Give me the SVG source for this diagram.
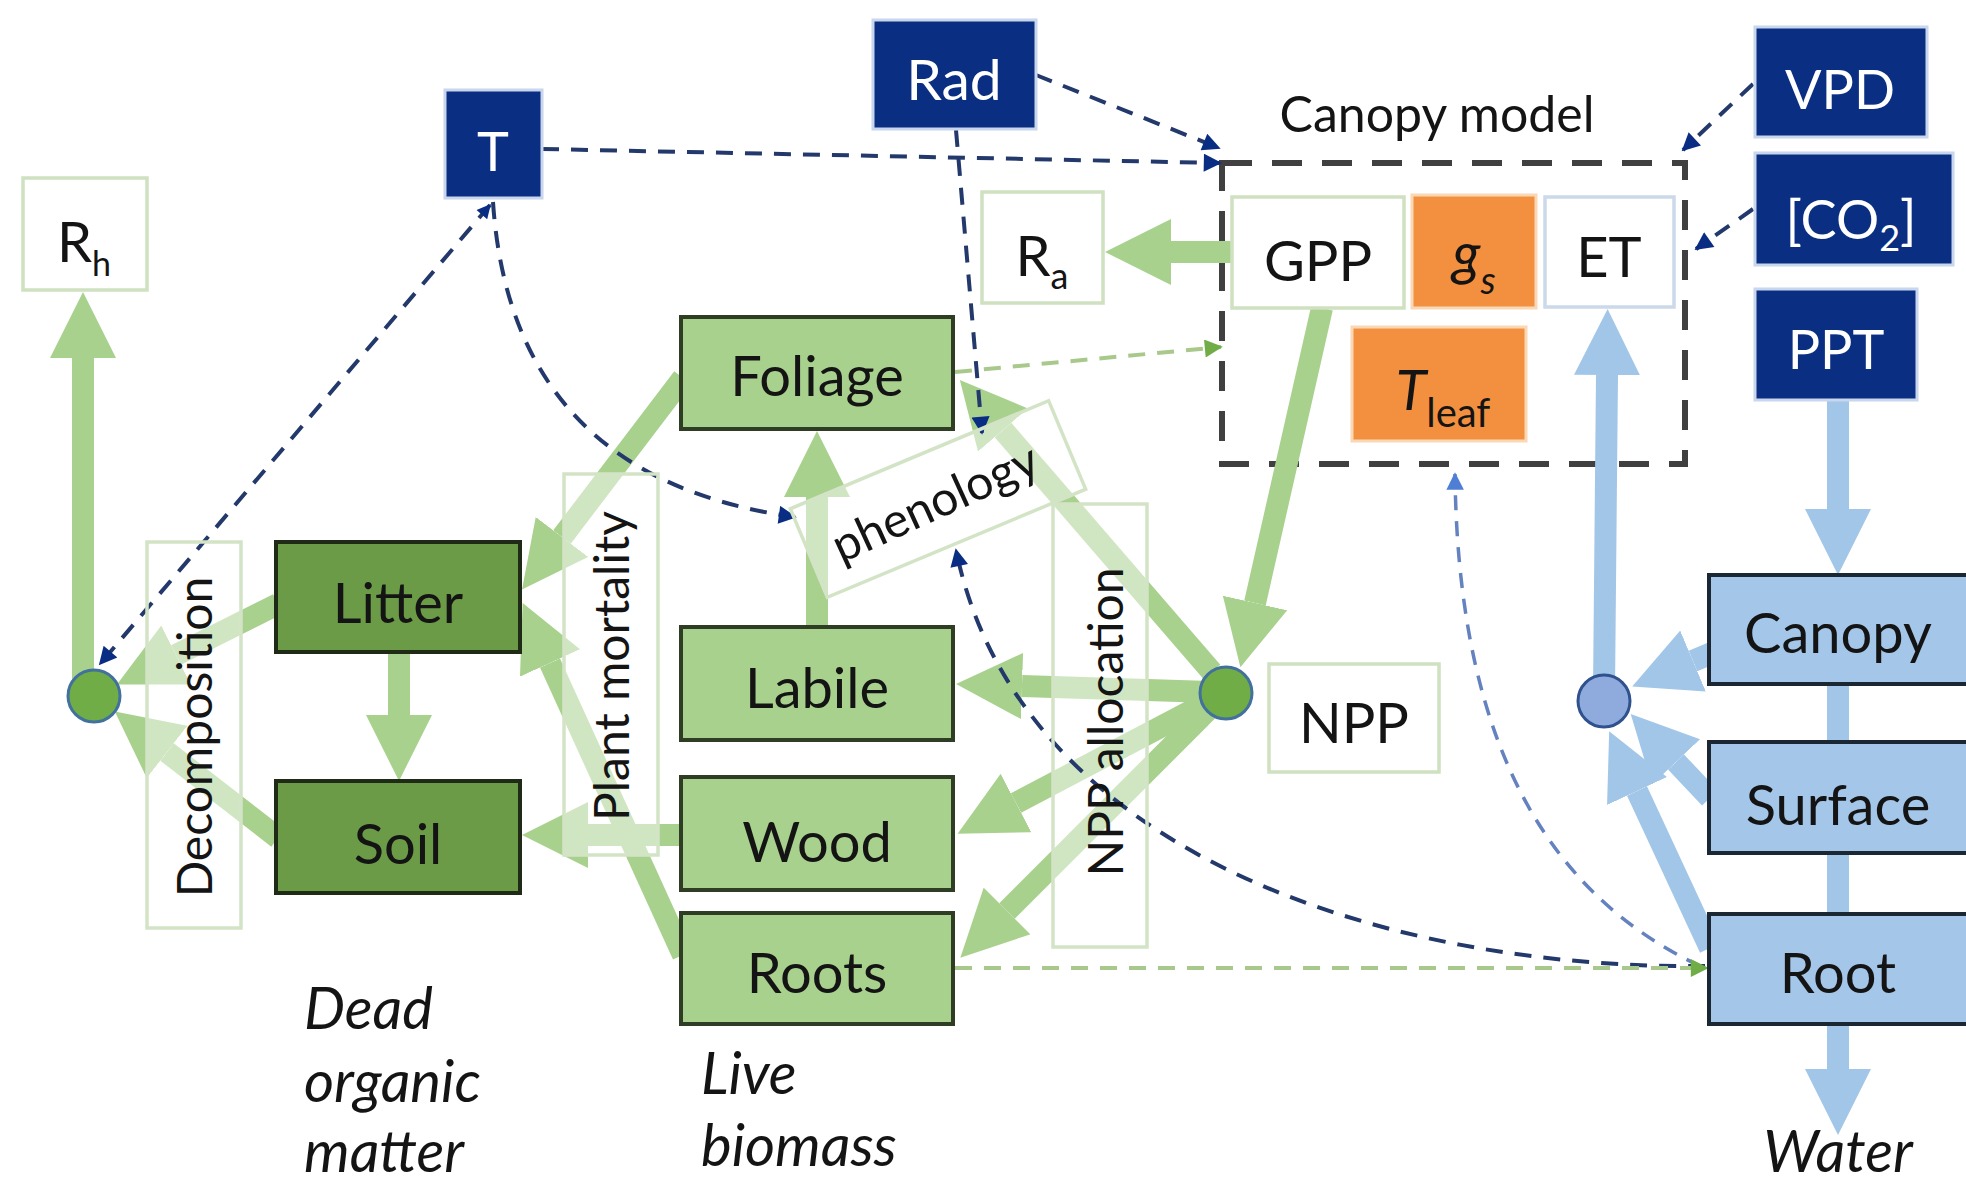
<svg xmlns="http://www.w3.org/2000/svg" width="1966" height="1187" viewBox="0 0 1966 1187">
<style>
  text { font-family: Lato, "Liberation Sans", sans-serif; }
  .lbl { font-size: 56px; text-anchor: middle; fill: #141414; }
  .inv { fill: #ffffff; font-size: 54px; }
  .side { font-size: 48px; text-anchor: middle; fill: #141414; }
  .note { font-size: 58px; font-style: italic; fill: #141414; }
  .navy { fill: #0a2f82; stroke: #c8d6ee; stroke-width: 3; }
  .live { fill: #a9d18e; stroke: #2e3d24; stroke-width: 4; }
  .dead { fill: #6b9b47; stroke: #1f2b16; stroke-width: 4; }
  .water { fill: #a3c6e9; stroke: #1b2733; stroke-width: 4; }
  .flux { fill: #ffffff; stroke: #cfe1c1; stroke-width: 3.5; }
  .fluxB { fill: #ffffff; stroke: #cbd9ea; stroke-width: 3.5; }
  .proc { fill: none; stroke: #d3e4c6; stroke-width: 3.5; }
  .hot { fill: #f29040; stroke: #fbd8b5; stroke-width: 3; }
  .pool { fill: #70ad47; stroke: #41719c; stroke-width: 3; }
  .poolB { fill: #8faadc; stroke: #2f528f; stroke-width: 3; }
  .gflow { fill: none; stroke: #a9d18e; stroke-width: 22; marker-end: url(#headG); }
  .bflow { fill: none; stroke: #a2c6e8; stroke-width: 22; marker-end: url(#headB); }
  .ctl { fill: none; stroke: #23396b; stroke-width: 4; stroke-dasharray: 17 12; marker-end: url(#tipN); }
  .ctlG { fill: none; stroke: #a9c98c; stroke-width: 4; stroke-dasharray: 17 12; marker-end: url(#tipG); }
  .ctlB { fill: none; stroke: #6482c0; stroke-width: 3.5; stroke-dasharray: 15 11; marker-end: url(#tipB); }
</style>
<defs>
  <marker id="headG" viewBox="0 0 10 10" refX="0" refY="5" markerWidth="3" markerHeight="3" orient="auto"><path d="M0,0 L10,5 L0,10 z" fill="#a9d18e"/></marker>
  <marker id="headB" viewBox="0 0 10 10" refX="0" refY="5" markerWidth="3" markerHeight="3" orient="auto"><path d="M0,0 L10,5 L0,10 z" fill="#a2c6e8"/></marker>
  <marker id="tipN" viewBox="0 0 10 10" refX="9" refY="5" markerWidth="5" markerHeight="4.5" orient="auto"><path d="M0,0 L10,5 L0,10 z" fill="#0a2d84"/></marker>
  <marker id="tipNs" viewBox="0 0 10 10" refX="9" refY="5" markerWidth="4" markerHeight="3.5" orient="auto-start-reverse"><path d="M0,0 L10,5 L0,10 z" fill="#0a2d84"/></marker>
  <marker id="tipG" viewBox="0 0 10 10" refX="9" refY="5" markerWidth="5" markerHeight="4.5" orient="auto"><path d="M0,0 L10,5 L0,10 z" fill="#70ad47"/></marker>
  <marker id="tipB" viewBox="0 0 10 10" refX="9" refY="5" markerWidth="5.5" markerHeight="5" orient="auto"><path d="M0,0 L10,5 L0,10 z" fill="#4e7fd4"/></marker>
  <!-- process label frames, shared by the nodes and the fading mask -->
  <rect id="box-decomp" x="147" y="542" width="94" height="386"/>
  <rect id="box-mort" x="564" y="474" width="94" height="381"/>
  <rect id="box-alloc" x="1053" y="504" width="94" height="443"/>
  <rect id="box-phen" x="-140" y="-48" width="280" height="96" transform="translate(938,499) rotate(-22.7)"/>
  <!-- flows seen through the process frames are washed out -->
  <mask id="fade" maskUnits="userSpaceOnUse" x="0" y="0" width="1966" height="1187">
    <rect width="1966" height="1187" fill="#ffffff"/>
    <g fill="#8a8a8a">
      <use href="#box-decomp"/>
      <use href="#box-mort"/>
      <use href="#box-alloc"/>
      <use href="#box-phen"/>
    </g>
  </mask>
</defs>

<rect width="1966" height="1187" fill="#ffffff"/>

<!-- canopy model frame -->
<g id="canopy-model">
  <rect x="1222" y="163" width="463" height="301" fill="none" stroke="#404040" stroke-width="6" stroke-dasharray="30 20"/>
  <text class="lbl" x="1437" y="132" style="font-size:50px">Canopy model</text>
</g>

<g id="connectors">
  <g id="flows" mask="url(#fade)">
    <!-- carbon -->
    <path class="gflow" d="M1322,308 L1255,603"/>
    <path class="gflow" d="M1232,252 L1171,252"/>
    <path class="gflow" d="M1210,692 L1022,686"/>
    <path class="gflow" d="M1210,701 L1016,803"/>
    <path class="gflow" d="M1212,706 L1007,911"/>
    <path class="gflow" d="M1212,672 L1003,430"/>
    <path class="gflow" d="M817,627 L817,497"/>
    <path class="gflow" d="M683,378 L562,537"/>
    <path class="gflow" d="M683,955 L550,663"/>
    <path class="gflow" d="M681,835 L588,835"/>
    <path class="gflow" d="M399,652 L399,715"/>
    <path class="gflow" d="M278,604 L176,655"/>
    <path class="gflow" d="M278,838 L167,752"/>
    <path class="gflow" d="M83,690 L83,358"/>
    <!-- water -->
    <path class="bflow" d="M1838,399 L1838,509"/>
    <path class="bflow" d="M1838,575 L1838,1069"/>
    <path class="bflow" d="M1712,653 L1693,661"/>
    <path class="bflow" d="M1710,798 L1676,762"/>
    <path class="bflow" d="M1710,948 L1637,791"/>
    <path class="bflow" d="M1604,690 L1607,375"/>
  </g>
  <g id="controls">
    <path class="ctl" d="M542,149 L1220,163"/>
    <path class="ctl" d="M1036,75 L1219,148"/>
    <path class="ctl" d="M956,130 L982,433"/>
    <path class="ctl" d="M493,202 C505,380 600,490 795,517"/>
    <path class="ctl" d="M490,205 L100,664" style="marker-start:url(#tipNs)"/>
    <path class="ctl" d="M1705,966 C1400,970 1020,860 956,550"/>
    <path class="ctl" d="M1753,84 L1683,150"/>
    <path class="ctl" d="M1753,209 L1696,249"/>
    <path class="ctlB" d="M1700,966 C1560,900 1458,760 1455,474"/>
    <path class="ctlG" d="M955,372 L1221,347"/>
    <path class="ctlG" d="M955,968 L1707,968"/>
  </g>
</g>

<!-- drivers -->
<g id="node-rad"><rect class="navy" x="873" y="20" width="163" height="109"/><text class="lbl inv" x="954" y="100" style="font-size:57px">Rad</text></g>
<g id="node-t"><rect class="navy" x="445" y="90" width="97" height="108"/><text class="lbl inv" x="493" y="171">T</text></g>
<g id="node-vpd"><rect class="navy" x="1755" y="27" width="172" height="110"/><text class="lbl inv" x="1840" y="109">VPD</text></g>
<g id="node-co2"><rect class="navy" x="1755" y="153" width="198" height="112"/><text class="lbl inv" x="1851" y="239">[CO<tspan font-size="36" dy="12">2</tspan><tspan dy="-12">]</tspan></text></g>
<g id="node-ppt"><rect class="navy" x="1755" y="289" width="162" height="111"/><text class="lbl inv" x="1836" y="369">PPT</text></g>

<!-- fluxes -->
<g id="node-rh"><rect class="flux" x="23" y="178" width="124" height="112"/><text class="lbl" x="84" y="262">R<tspan font-size="34" dy="14">h</tspan></text></g>
<g id="node-ra"><rect class="flux" x="982" y="192" width="121" height="111"/><text class="lbl" x="1042" y="276">R<tspan font-size="36" dy="13">a</tspan></text></g>
<g id="node-gpp"><rect class="flux" x="1232" y="197" width="172" height="111"/><text class="lbl" x="1318" y="281">GPP</text></g>
<g id="node-gs"><rect class="hot" x="1412" y="195" width="124" height="113"/><text class="lbl" x="1474" y="274" font-style="italic" style="font-size:58px">g<tspan font-size="38" dy="20">s</tspan></text></g>
<g id="node-et"><rect class="fluxB" x="1545" y="197" width="129" height="110"/><text class="lbl" x="1609" y="277">ET</text></g>
<g id="node-tleaf"><rect class="hot" x="1352" y="327" width="174" height="114"/><text class="lbl" x="1443" y="410"><tspan font-style="italic">T</tspan><tspan font-size="40" dy="17">leaf</tspan></text></g>
<g id="node-npp"><rect class="flux" x="1269" y="664" width="170" height="108"/><text class="lbl" x="1354" y="743">NPP</text></g>

<!-- processes -->
<g id="node-decomposition"><use href="#box-decomp" class="proc"/><text class="side" transform="translate(212,737) rotate(-90)">Decomposition</text></g>
<g id="node-mortality"><use href="#box-mort" class="proc"/><text class="side" transform="translate(629,666) rotate(-90)">Plant mortality</text></g>
<g id="node-allocation"><use href="#box-alloc" class="proc"/><text class="side" transform="translate(1123,722) rotate(-90)">NPP allocation</text></g>
<g id="node-phenology"><use href="#box-phen" class="proc"/><text class="side" transform="translate(936,505) rotate(-24.5)" y="14">phenology</text></g>

<!-- live biomass -->
<g id="node-foliage"><rect class="live" x="681" y="317" width="272" height="112"/><text class="lbl" x="817" y="396">Foliage</text></g>
<g id="node-labile"><rect class="live" x="681" y="627" width="272" height="113"/><text class="lbl" x="817" y="708">Labile</text></g>
<g id="node-wood"><rect class="live" x="681" y="777" width="272" height="113"/><text class="lbl" x="817" y="862">Wood</text></g>
<g id="node-roots"><rect class="live" x="681" y="913" width="272" height="111"/><text class="lbl" x="817" y="993">Roots</text></g>

<!-- dead organic matter -->
<g id="node-litter"><rect class="dead" x="276" y="542" width="244" height="110"/><text class="lbl" x="398" y="623">Litter</text></g>
<g id="node-soil"><rect class="dead" x="276" y="781" width="244" height="112"/><text class="lbl" x="398" y="864">Soil</text></g>

<!-- water stores -->
<g id="node-canopy"><rect class="water" x="1709" y="575" width="280" height="109"/><text class="lbl" x="1838" y="653">Canopy</text></g>
<g id="node-surface"><rect class="water" x="1709" y="742" width="280" height="111"/><text class="lbl" x="1838" y="825">Surface</text></g>
<g id="node-root"><rect class="water" x="1709" y="914" width="280" height="110"/><text class="lbl" x="1838" y="993">Root</text></g>

<!-- junctions -->
<g id="node-resp-junction"><circle class="pool" cx="94" cy="696" r="26"/></g>
<g id="node-npp-junction"><circle class="pool" cx="1226" cy="693" r="26"/></g>
<g id="node-et-junction"><circle class="poolB" cx="1604" cy="701" r="26"/></g>

<!-- group captions -->
<g id="captions">
  <text class="note" x="304" y="1029">Dead</text>
  <text class="note" x="304" y="1102">organic</text>
  <text class="note" x="304" y="1172">matter</text>
  <text class="note" x="701" y="1094">Live</text>
  <text class="note" x="701" y="1166">biomass</text>
  <text class="note" x="1838" y="1172" text-anchor="middle">Water</text>
</g>
</svg>
